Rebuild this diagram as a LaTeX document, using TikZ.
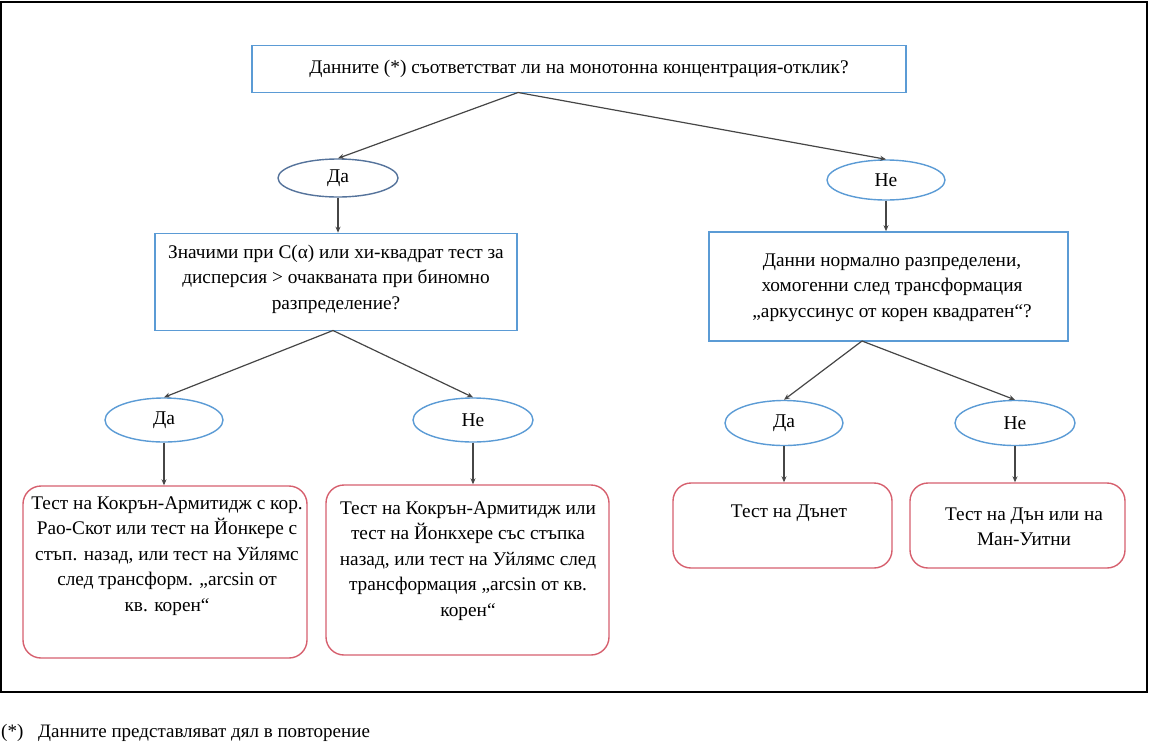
\documentclass[tikz,border=0pt]{standalone}
\usepackage{fontspec}
\setmainfont{Liberation Serif}
\usetikzlibrary{shapes.geometric,arrows.meta}
\definecolor{bblue}{RGB}{91,155,213}
\definecolor{dblue}{RGB}{85,115,155}
\definecolor{rred}{RGB}{214,96,110}
\definecolor{agray}{RGB}{70,70,70}
\begin{document}
\begin{tikzpicture}[x=1pt,y=-1pt,
  txt/.style={font=\fontsize{19.3}{25.5}\selectfont,align=center,inner sep=0pt},
  qbox/.style={draw=bblue,line width=1.6pt,align=center,inner sep=0pt,font=\fontsize{19.3}{25.5}\selectfont},
  oval/.style={draw=bblue,line width=1.4pt,ellipse,inner sep=0pt,font=\fontsize{19.5}{22}\selectfont},
  rbox/.style={draw=rred,line width=1.4pt,rounded corners=18pt,inner sep=0pt},
  arr/.style={draw=agray,line width=1.2pt,-{Stealth[length=6pt,width=5pt]}}]
\useasboundingbox (0,0) rectangle (1150,745);
\draw[line width=2pt] (1,2) rectangle (1147,692);
% top question
\node[qbox,minimum width=654pt,minimum height=47pt] (q0) at (579,69) {Данните (*) съответстват ли на монотонна концентрация-отклик?};
\coordinate (q0b) at (518,92.5);
% first level ovals
\node[oval,draw=dblue,minimum width=120pt,minimum height=38pt] (y1) at (338,178) {Да};
\node[oval,minimum width=118pt,minimum height=40pt] (n1) at (886,180) {Не};
\draw[arr] (q0b) -- (y1.north);
\draw[arr] (q0b) -- (n1.north);
% second level questions
\node[qbox,minimum width=362pt,minimum height=97pt] (q1) at (336,282) {};
\node[txt] (q1t) at (336,279) {Значими при C(α) или хи-квадрат тест за\\дисперсия > очакваната при биномно\\разпределение?};
\node[qbox,minimum width=359pt,minimum height=109pt] (q2) at (888.5,286.5) {};
\node[txt] (q2t) at (892,287.5) {Данни нормално разпределени,\\хомогенни след трансформация\\„аркуссинус от корен квадратен“?};
\draw[arr] (y1.south) -- (q1.north -| y1.south);
\draw[arr] (n1.south) -- (q2.north -| n1.south);
% third level ovals
\node[oval,minimum width=118pt,minimum height=44pt] (y2) at (164,420) {Да};
\node[oval,minimum width=120pt,minimum height=44pt] (n2) at (473,420) {Не};
\node[oval,minimum width=118pt,minimum height=45pt] (y3) at (784,423) {Да};
\node[oval,minimum width=120pt,minimum height=45pt] (n3) at (1015,423) {Не};
\coordinate (q1b) at (333,330.5);
\coordinate (q2b) at (862,341);
\draw[arr] (q1b) -- (y2.north);
\draw[arr] (q1b) -- (n2.north);
\draw[arr] (q2b) -- (y3.north);
\draw[arr] (q2b) -- (n3.north);
% result boxes
\node[rbox,minimum width=284pt,minimum height=172pt] (r1) at (165,572) {};
\node[txt] (t1) at (167,556) {Тест на Кокрън-Армитидж с кор.\\Рао-Скот или тест на Йонкере с\\стъп. назад, или тест на Уйлямс\\след трансформ. „arcsin от\\кв. корен“};
\node[rbox,minimum width=283pt,minimum height=170pt] (r2) at (467.5,570) {};
\node[txt] (t2) at (468,561) {Тест на Кокрън-Армитидж или\\тест на Йонкхере със стъпка\\назад, или тест на Уйлямс след\\трансформация „arcsin от кв.\\корен“};
\node[rbox,minimum width=219pt,minimum height=85pt] (r3) at (782.5,525.5) {};
\node[txt] (t3) at (789,513) {Тест на Дънет};
\node[rbox,minimum width=215pt,minimum height=85pt] (r4) at (1017.5,525.5) {};
\node[txt] (t4) at (1024,527) {Тест на Дън или на\\Ман-Уитни};
\draw[arr] (y2.south) -- (r1.north -| y2.south);
\draw[arr] (n2.south) -- (r2.north -| n2.south);
\draw[arr] (y3.south) -- (r3.north -| y3.south);
\draw[arr] (n3.south) -- (r4.north -| n3.south);
% footnote
\node[font=\fontsize{19}{22}\selectfont,anchor=west,inner sep=0pt] (f1) at (1,733) {(*)};
\node[font=\fontsize{19}{22}\selectfont,anchor=west,inner sep=0pt] (f2) at (38,733) {Данните представляват дял в повторение};
\end{tikzpicture}
\end{document}
